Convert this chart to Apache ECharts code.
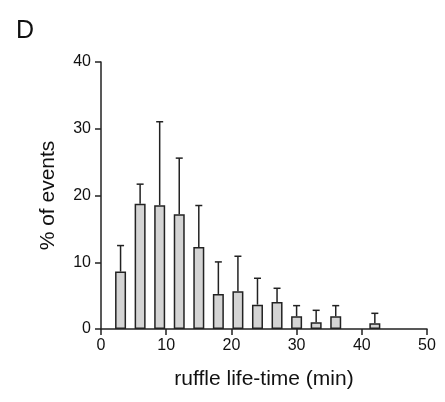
<!DOCTYPE html>
<html>
<head>
<meta charset="utf-8">
<script src="https://cdn.jsdelivr.net/npm/echarts@6/dist/echarts.min.js"></script>
<style>
  html, body { margin: 0; padding: 0; background: #fff; }
  #chart { width: 445px; height: 402px; }
</style>
</head>
<body>
<div id="chart"></div>
<script>
// bin centres (min) and mean % of events with upper SD
const lifeTimes = [3, 6, 9, 12, 15, 18, 21, 24, 27, 30, 33, 36, 42]
const percentEvents = [8.6, 18.75, 18.55, 17.2, 12.3, 5.25, 5.65, 3.65, 4.05, 1.9, 1.0, 1.9, 0.85]
const errorTops = [12.5, 21.7, 31.05, 25.6, 18.5, 10.05, 10.9, 7.6, 6.1, 3.5, 2.8, 3.5, 2.35]
const xTicks = [0, 10, 20, 30, 40, 50]
const yTicks = [0, 10, 20, 30, 40]

const ink = '#222'
const font = 'Liberation Sans, Arial, sans-serif'

const myChart = echarts.init(document.getElementById('chart'))

const barData = lifeTimes.map((x, i) => [x, percentEvents[i]])
const errData = lifeTimes.map((x, i) => [x, percentEvents[i], errorTops[i]])

const option = {
  animation: false,
  title: {
    text: 'D',
    left: 11,
    top: 14,
    textStyle: { fontSize: 25, fontWeight: 'normal', color: '#111', fontFamily: font }
  },
  grid: {
    left: 101,
    right: 18,
    top: 62,
    bottom: 73
  },
  xAxis: {
    type: 'value',
    min: xTicks[0],
    max: xTicks[xTicks.length - 1],
    interval: 10,
    name: 'ruffle life-time (min)',
    nameLocation: 'middle',
    nameGap: 40,
    nameTextStyle: { fontSize: 21, color: '#111', fontFamily: font },
    axisLine: { lineStyle: { color: ink, width: 1.5 } },
    axisTick: { show: true, length: 6, lineStyle: { color: ink, width: 1.5 } },
    axisLabel: { fontSize: 16, color: '#111', fontFamily: font, margin: 9 },
    splitLine: { show: false }
  },
  yAxis: {
    type: 'value',
    min: yTicks[0],
    max: yTicks[yTicks.length - 1],
    interval: 10,
    name: '% of events',
    nameLocation: 'middle',
    nameGap: 42,
    nameRotate: 90,
    nameTextStyle: { fontSize: 21, color: '#111', fontFamily: font },
    axisLine: { show: true, lineStyle: { color: ink, width: 1.5 } },
    axisTick: { show: true, length: 6, lineStyle: { color: ink, width: 1.5 } },
    axisLabel: { fontSize: 16, color: '#111', fontFamily: font, margin: 10 },
    splitLine: { show: false }
  },
  series: [
    {
      type: 'custom',
      z: 1,
      data: errData,
      renderItem: function (params, api) {
        const base = api.coord([api.value(0), api.value(1)])
        const top = api.coord([api.value(0), api.value(2)])
        const cap = 3.5
        return {
          type: 'group',
          children: [
            {
              type: 'line',
              shape: { x1: base[0], y1: base[1], x2: top[0], y2: top[1] },
              style: { stroke: ink, lineWidth: 1.5 }
            },
            {
              type: 'line',
              shape: { x1: top[0] - cap, y1: top[1], x2: top[0] + cap, y2: top[1] },
              style: { stroke: ink, lineWidth: 1.5 }
            }
          ]
        }
      }
    },
    {
      type: 'bar',
      z: 2,
      data: barData,
      barWidth: 11,
      itemStyle: {
        color: '#d4d4d4',
        borderColor: ink,
        borderWidth: 1.5
      }
    }
  ]
}

myChart.setOption(option)
</script>
</body>
</html>
